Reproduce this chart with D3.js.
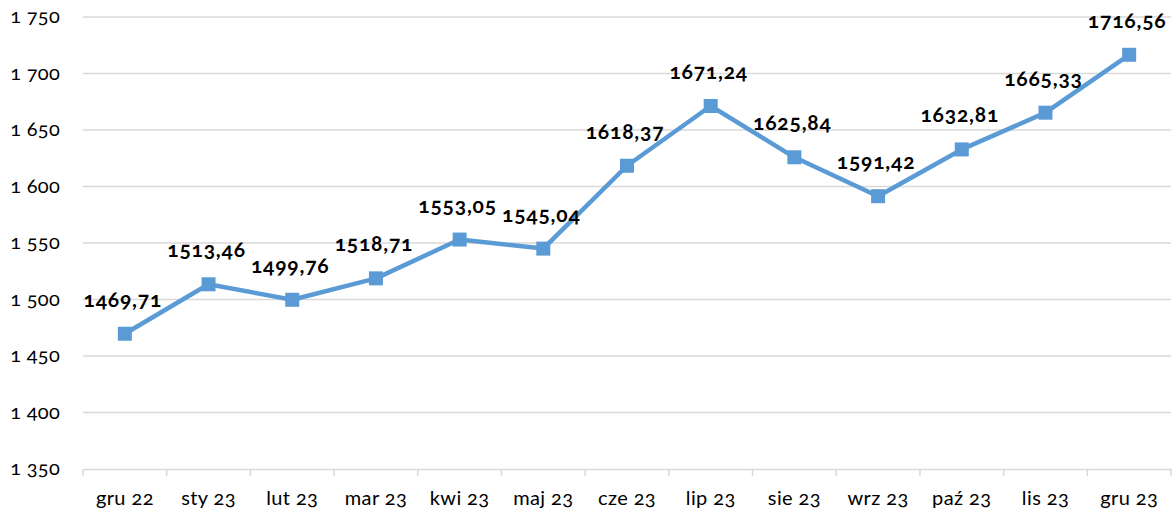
<!DOCTYPE html>
<html>
<head>
<meta charset="utf-8">
<script src="https://cdn.jsdelivr.net/npm/d3@7"></script>
<style>
  body { margin: 0; background: #fff; }
  svg text { font-family: Lato, "Open Sans", sans-serif; font-variant-numeric: oldstyle-nums; }
</style>
</head>
<body>
<svg id="chart"></svg>
<script>
// chart data
const months = ["gru 22", "sty 23", "lut 23", "mar 23", "kwi 23", "maj 23", "cze 23",
    "lip 23", "sie 23", "wrz 23", "paź 23", "lis 23", "gru 23"];
const values = [1469.71, 1513.46, 1499.76, 1518.71, 1553.05, 1545.04, 1618.37,
    1671.24, 1625.84, 1591.42, 1632.81, 1665.33, 1716.56];
const yTicks = [1350, 1400, 1450, 1500, 1550, 1600, 1650, 1700, 1750];

const width = 1173;
const height = 515;
const marginTop = 17;
const marginRight = 2;
const marginBottom = 46;
const marginLeft = 83;

const svg = d3.select('#chart')
    .attr('width', width)
    .attr('height', height);

const x = d3.scaleBand()
    .domain(months)
    .range([marginLeft, width - marginRight]);

const y = d3.scaleLinear()
    .domain([1350, 1750])
    .range([height - marginBottom, marginTop]);

const fmtY = d => d3.format(",")(d).replace(",", " ");
const fmtV = d => d.toFixed(2).replace(".", ",");

// gridlines
svg.append("g")
    .selectAll("line")
    .data(yTicks.slice(1))
    .join("line")
    .attr("x1", marginLeft)
    .attr("x2", width - marginRight)
    .attr("y1", d => y(d))
    .attr("y2", d => y(d))
    .attr("stroke", "#d9d9d9")
    .attr("stroke-width", 1.5);

// y axis labels
svg.append("g")
    .selectAll("text")
    .data(yTicks)
    .join("text")
    .attr("x", 60)
    .attr("y", d => y(d))
    .attr("dy", "0.32em")
    .attr("text-anchor", "end")
    .attr("font-size", 20)
    .attr("letter-spacing", 0.3)
    .attr("fill", "#000")
    .text(fmtY);

// x axis
svg.append("g")
    .attr("transform", `translate(0,${height - marginBottom})`)
    .call(d3.axisBottom(x).tickSize(0).tickPadding(22))
    .call(g => g.select(".domain").attr("stroke", "#d9d9d9").attr("stroke-width", 1.5))
    .call(g => g.selectAll(".tick text").attr("font-size", 20)
        .attr("letter-spacing", 0.4).attr("fill", "#000"));

// category separators on x axis
svg.append("g")
    .selectAll("line")
    .data(months.concat(["end"]))
    .join("line")
    .attr("x1", (d, i) => marginLeft + i * x.step())
    .attr("x2", (d, i) => marginLeft + i * x.step())
    .attr("y1", height - marginBottom)
    .attr("y2", height - marginBottom + 7)
    .attr("stroke", "#d9d9d9")
    .attr("stroke-width", 1.5);

const cx = d => x(d) + x.bandwidth() / 2;

// line
svg.append("path")
    .datum(values)
    .attr("fill", "none")
    .attr("stroke", "#5b9bd5")
    .attr("stroke-width", 4.5)
    .attr("stroke-linejoin", "round")
    .attr("d", d3.line()
        .x((d, i) => cx(months[i]))
        .y(d => y(d)));

// markers
svg.append("g")
    .selectAll("rect")
    .data(values)
    .join("rect")
    .attr("x", (d, i) => cx(months[i]) - 7)
    .attr("y", d => y(d) - 7)
    .attr("width", 14)
    .attr("height", 14)
    .attr("fill", "#5b9bd5");

// data labels
svg.append("g")
    .selectAll("text")
    .data(values)
    .join("text")
    .attr("x", (d, i) => cx(months[i]) - 2)
    .attr("y", d => y(d) - 27)
    .attr("text-anchor", "middle")
    .attr("font-size", 21)
    .attr("font-weight", "bold")
    .attr("letter-spacing", 0.8)
    .attr("fill", "#000")
    .text(fmtV);
</script>
</body>
</html>
